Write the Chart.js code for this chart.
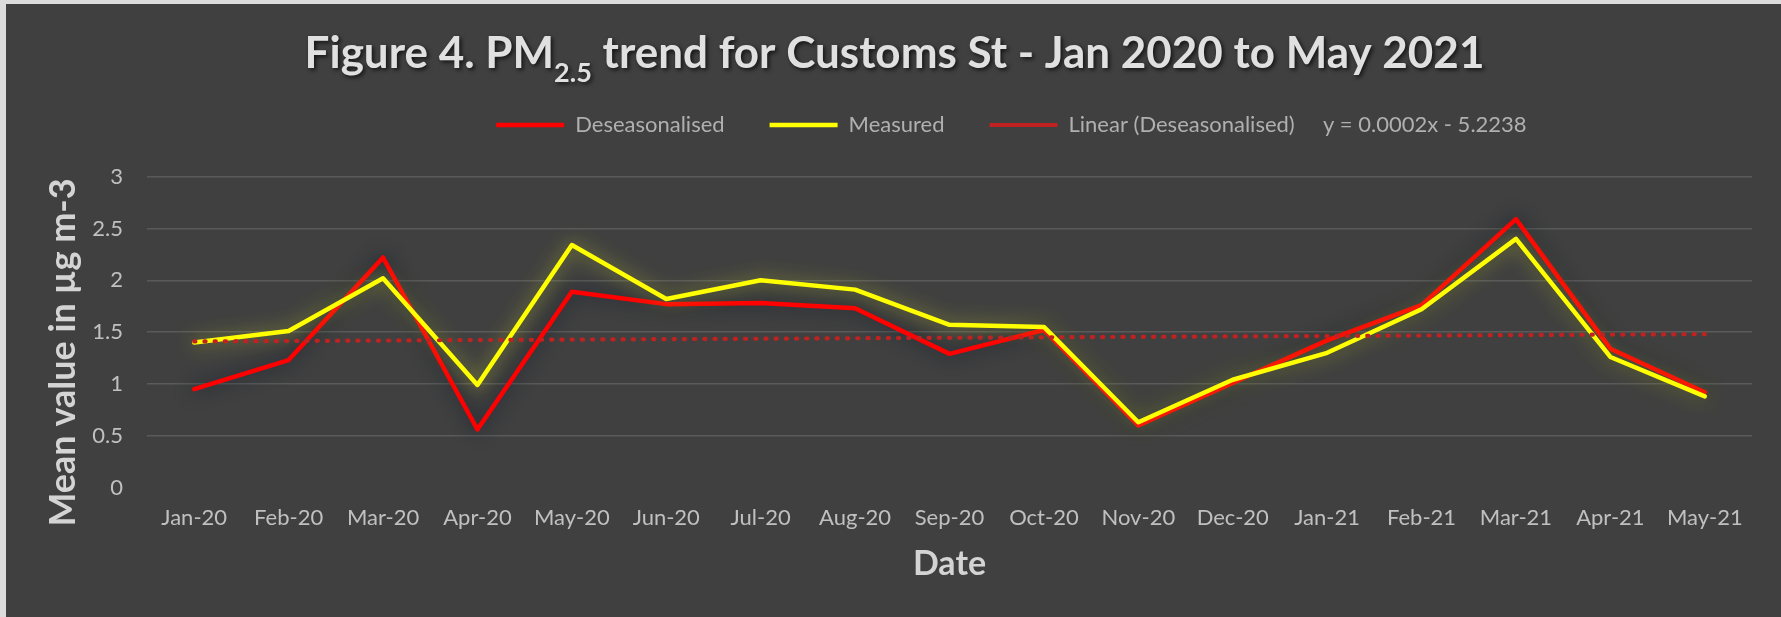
<!DOCTYPE html>
<html><head><meta charset="utf-8">
<script src="https://cdn.jsdelivr.net/npm/chart.js@4"></script>
<style>
html,body{margin:0;padding:0;background:#dcdcdc;width:1781px;height:617px;overflow:hidden}
#wrap{position:absolute;left:6px;top:4px;width:1775px;height:613px;background:#404040}
canvas{display:block}
</style></head><body>
<div id="wrap"><canvas id="c" width="1775" height="613"></canvas></div>
<script>
// ---- data ----
const months = ['Jan-20','Feb-20','Mar-20','Apr-20','May-20','Jun-20','Jul-20','Aug-20','Sep-20','Oct-20','Nov-20','Dec-20','Jan-21','Feb-21','Mar-21','Apr-21','May-21'];
const deseasonalised = [0.95, 1.23, 2.22, 0.56, 1.89, 1.77, 1.78, 1.73, 1.29, 1.52, 0.60, 1.01, 1.42, 1.76, 2.59, 1.34, 0.92];
const measured = [1.40, 1.51, 2.02, 0.99, 2.34, 1.82, 2.00, 1.91, 1.57, 1.55, 0.63, 1.04, 1.30, 1.72, 2.40, 1.26, 0.88];
// trendline read at its two ends (Jan-20 and May-21), joined straight
const trendline = [1.41, null, null, null, null, null, null, null, null, null, null, null, null, null, null, null, 1.48];
const yMin = 0, yMax = 3, yStep = 0.5;
const titleA = 'Figure 4. PM', titleSub = '2.5', titleB = ' trend for Customs St - Jan 2020 to May 2021';
const yTitle = 'Mean value in µg m-3';
const xTitle = 'Date';
const legendDes = 'Deseasonalised', legendMeas = 'Measured';
const legendTrend = 'Linear (Deseasonalised)', trendEquation = 'y = 0.0002x - 5.2238';

Chart.defaults.font.family = 'Lato';

const glowPlugin = {
  id: 'glow',
  beforeDatasetDraw(chart, args) {
    const ds = chart.data.datasets[args.index];
    chart.ctx.save();
    if (ds.glowColor) { chart.ctx.shadowColor = ds.glowColor; chart.ctx.shadowBlur = ds.glowBlur; }
  },
  afterDatasetDraw(chart) { chart.ctx.restore(); }
};

// empty layout box that keeps a gap between the legend and the plot area
const legendGapPlugin = {
  id: 'legendGap',
  beforeInit(chart) {
    const box = {
      position: 'top', weight: 500, fullSize: true, options: {},
      left: 0, top: 0, right: 0, bottom: 0, width: 0, height: 0,
      isHorizontal() { return true; },
      update(maxWidth) { this.width = maxWidth; this.height = 30.7; },
      draw() {}
    };
    Chart.layouts.addBox(chart, box);
  }
};

const textPlugin = {
  id: 'texts',
  afterDraw(chart) {
    const ctx = chart.ctx;
    // main title with subscript
    ctx.save();
    ctx.fillStyle = '#e0e0e0';
    ctx.shadowColor = 'rgba(0,0,0,0.7)';
    ctx.shadowBlur = 4; ctx.shadowOffsetX = 2; ctx.shadowOffsetY = 2;
    ctx.textBaseline = 'alphabetic'; ctx.textAlign = 'left';
    const big = 'bold 44px Lato', small = 'bold 27px Lato';
    ctx.font = big; const wA = ctx.measureText(titleA).width, wB = ctx.measureText(titleB).width;
    ctx.font = small; const wS = ctx.measureText(titleSub).width;
    let x = chart.width / 2 + 1 - (wA + wS + wB) / 2;
    const base = 64;
    ctx.font = big; ctx.fillText(titleA, x, base); x += wA;
    ctx.font = small; ctx.fillText(titleSub, x, base + 14); x += wS;
    ctx.font = big; ctx.fillText(titleB, x, base);
    ctx.restore();
    // y axis title
    ctx.save();
    ctx.translate(57, 348.5);
    ctx.rotate(-Math.PI / 2);
    ctx.font = 'bold 36px Lato';
    ctx.fillStyle = '#d4d4d4';
    ctx.textAlign = 'center'; ctx.textBaseline = 'middle';
    ctx.fillText(yTitle, 0, 0);
    ctx.restore();
  }
};

const spacer = ' '.repeat(25);

new Chart(document.getElementById('c'), {
  type: 'line',
  data: {
    labels: months,
    datasets: [
      { label: legendDes, data: deseasonalised, borderColor: '#ff0000', backgroundColor: '#ff0000',
        borderWidth: 4.5, pointRadius: 0, borderCapStyle: 'round', borderJoinStyle: 'round',
        tension: 0, order: 3, glowColor: 'rgba(18,26,44,0.95)', glowBlur: 18 },
      { label: legendMeas, data: measured, borderColor: '#ffff00', backgroundColor: '#ffff00',
        borderWidth: 4.5, pointRadius: 0, borderCapStyle: 'round', borderJoinStyle: 'round',
        tension: 0, order: 2, glowColor: 'rgba(190,200,40,0.7)', glowBlur: 18 },
      { label: legendTrend + '     ' + trendEquation, data: trendline, borderColor: '#c02222', backgroundColor: '#c02222',
        borderWidth: 4.2, borderDash: [1.2, 9], borderCapStyle: 'round', pointRadius: 0,
        spanGaps: true, tension: 0, order: 1 }
    ]
  },
  options: {
    responsive: false,
    devicePixelRatio: 1,
    animation: false,
    events: [],
    layout: { padding: { top: 65, left: 0, right: 29, bottom: 0 } },
    plugins: {
      title: { display: false },
      tooltip: { enabled: false },
      legend: {
        display: true,
        position: 'top',
        onClick: null,
        labels: {
          color: '#b0b0b0',
          font: { size: 22 },
          usePointStyle: true,
          pointStyle: 'line',
          pointStyleWidth: 68,
          padding: 45,
          generateLabels(chart) {
            const items = Chart.defaults.plugins.legend.labels.generateLabels(chart)
              .sort((a, b) => a.datasetIndex - b.datasetIndex);
            items.unshift({ text: spacer, fillStyle: 'rgba(0,0,0,0)', strokeStyle: 'rgba(0,0,0,0)',
              lineWidth: 0, hidden: false, pointStyle: 'line', datasetIndex: -1, fontColor: 'rgba(0,0,0,0)' });
            return items;
          }
        }
      }
    },
    scales: {
      x: {
        offset: true,
        grid: { display: false, drawTicks: false },
        border: { display: false },
        ticks: { color: '#c0c0c0', font: { size: 22 }, padding: 17.3, maxRotation: 0, autoSkip: false },
        title: { display: true, text: xTitle, color: '#d4d4d4', font: { size: 34, weight: 'bold' }, padding: { top: 0, bottom: 32.6 } },
        afterFit(s) { s.height = 129.5; s.paddingLeft = 0; s.paddingRight = 0; }
      },
      y: {
        min: yMin, max: yMax,
        grid: { color: (c) => (c.tick && c.tick.value === 0) ? 'rgba(0,0,0,0)' : '#5a5a5a', lineWidth: 1.5, drawTicks: false },
        border: { display: false },
        ticks: { stepSize: yStep, color: '#c0c0c0', font: { size: 22 }, padding: 24, callback: (v) => String(v) },
        afterFit(s) { s.width = 141; }
      }
    }
  },
  plugins: [glowPlugin, legendGapPlugin, textPlugin]
});
</script>
</body></html>
